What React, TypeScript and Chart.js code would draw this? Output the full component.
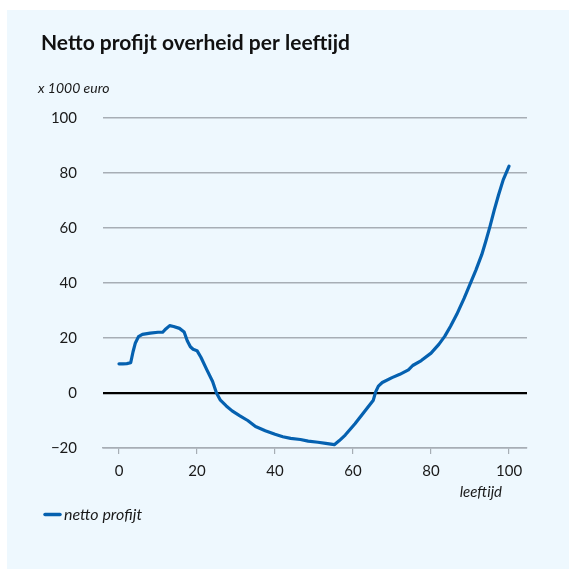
import React, { useEffect, useRef } from "react";
import { Chart, registerables } from "chart.js";

Chart.register(...registerables);

const title = "Netto profijt overheid per leeftijd";
const yUnit = "x 1000 euro";
const xUnit = "leeftijd";
const seriesLabel = "netto profijt";

const ages = [
  0, 1, 2, 3, 3.6, 4.2, 5, 6, 8, 10, 11.2, 12, 13, 14, 15.5, 16.7, 17.5, 18.3, 19, 20,
  21, 22.5, 24, 25, 26, 27.5, 29, 31, 33, 35, 37.5, 40, 42, 44, 46.5, 48.5, 51, 53, 55.2,
  56.5, 58, 60.5, 63, 65.2, 65.8, 66.5, 67.5, 70, 72, 74.2, 75.3, 77.5, 80, 82, 83.5, 85,
  86.6, 88.5, 90, 91.5, 93, 94, 95.1, 96.2, 97.3, 98.5, 100,
];
const profit = [
  10.6, 10.6, 10.7, 11.0, 15, 18.2, 20.5, 21.3, 21.8, 22.1, 22.1, 23.3, 24.5, 24.2, 23.5,
  22.2, 19, 16.8, 15.9, 15.4, 13, 8.5, 4.2, 0, -2.6, -4.7, -6.5, -8.3, -10, -12.2, -13.7,
  -15, -15.9, -16.5, -16.9, -17.5, -17.9, -18.3, -18.8, -17.3, -15.3, -11.2, -6.6, -2.6,
  0.4, 2.5, 3.8, 5.6, 6.8, 8.4, 10, 11.8, 14.5, 17.7, 20.6, 24.3, 28.6, 34.5, 39.6, 44.7,
  50.3, 55, 60.5, 66.5, 72, 77.5, 82.5,
];
const xTicks = [0, 20, 40, 60, 80, 100];

const BLUE = "#0561b0";
const GRID = "#a7aeb5";
const PANEL = "#eef8fe";

const decorPlugin = {
  id: "decor",
  beforeDraw(chart: any) {
    const ctx = chart.ctx;
    ctx.save();
    ctx.fillStyle = "#ffffff";
    ctx.fillRect(0, 0, chart.width, chart.height);
    ctx.fillStyle = PANEL;
    ctx.fillRect(7, 10, chart.width - 7, chart.height - 10);
    ctx.restore();
  },
  afterDraw(chart: any) {
    const ctx = chart.ctx;
    ctx.save();
    ctx.fillStyle = "#111111";
    ctx.textBaseline = "alphabetic";
    ctx.textAlign = "left";
    ctx.font = 'bold 21px Lato';
    ctx.fillText(title, 41, 50, 309);
    ctx.fillStyle = "#1a1a1a";
    ctx.font = 'italic 14px Lato';
    ctx.fillText(yUnit, 38, 93);
    ctx.textAlign = "right";
    ctx.font = 'italic 15px Lato';
    ctx.fillText(xUnit, 502, 497);
    // legend
    ctx.strokeStyle = BLUE;
    ctx.lineWidth = 3.5;
    ctx.lineCap = "round";
    ctx.beginPath();
    ctx.moveTo(45, 514.5);
    ctx.lineTo(60, 514.5);
    ctx.stroke();
    ctx.textAlign = "left";
    ctx.fillStyle = "#1a1a1a";
    ctx.font = 'italic 16px Lato';
    ctx.fillText(seriesLabel, 64, 520);
    ctx.restore();
  },
};

export default function App() {
  const ref = useRef<HTMLCanvasElement | null>(null);
  useEffect(() => {
    if (!ref.current) return;
    const chart = new Chart(ref.current, {
      type: "line",
      data: {
        datasets: [
          {
            label: seriesLabel,
            data: ages.map((a, i) => ({ x: a, y: profit[i] })),
            borderColor: BLUE,
            borderWidth: 3.2,
            pointRadius: 0,
            tension: 0,
            borderCapStyle: "round",
            borderJoinStyle: "round",
          },
        ],
      },
      options: {
        animation: false,
        responsive: false,
        devicePixelRatio: 1,
        layout: { padding: { top: 118, right: 42, bottom: 0, left: 0 } },
        plugins: { legend: { display: false }, tooltip: { enabled: false } },
        scales: {
          x: {
            type: "linear",
            min: -4.1,
            max: 104.6,
            afterBuildTicks: (scale: any) => {
              scale.ticks = xTicks.map((v) => ({ value: v }));
            },
            afterFit: (scale: any) => {
              scale.height = 121;
            },
            grid: {
              display: true,
              drawOnChartArea: false,
              drawTicks: true,
              tickLength: 6,
              color: GRID,
              lineWidth: 1.2,
            },
            border: { display: true, color: GRID, width: 1.5 },
            ticks: {
              padding: 8,
              color: "#1a1a1a",
              font: { family: "Lato", size: 15 },
              maxRotation: 0,
            },
          },
          y: {
            min: -20,
            max: 100,
            afterFit: (scale: any) => {
              scale.width = 103;
            },
            ticks: {
              stepSize: 20,
              padding: 26,
              color: "#1a1a1a",
              font: { family: "Lato", size: 15 },
              callback: (v: any) => (v < 0 ? "\u2212" + Math.abs(v) : String(v)),
            },
            grid: {
              drawTicks: false,
              color: (c: any) => (c.tick && c.tick.value === 0 ? "#000000" : GRID),
              lineWidth: (c: any) => (c.tick && c.tick.value === 0 ? 2.2 : 1.5),
            },
            border: { display: false },
          },
        },
      },
      plugins: [decorPlugin],
    });
    return () => chart.destroy();
  }, []);
  return (
    <div style={{ position: "fixed", left: 0, top: 0, width: 569, height: 569, background: "#fff" }}>
      <canvas ref={ref} width={569} height={569} style={{ display: "block" }} />
    </div>
  );
}
